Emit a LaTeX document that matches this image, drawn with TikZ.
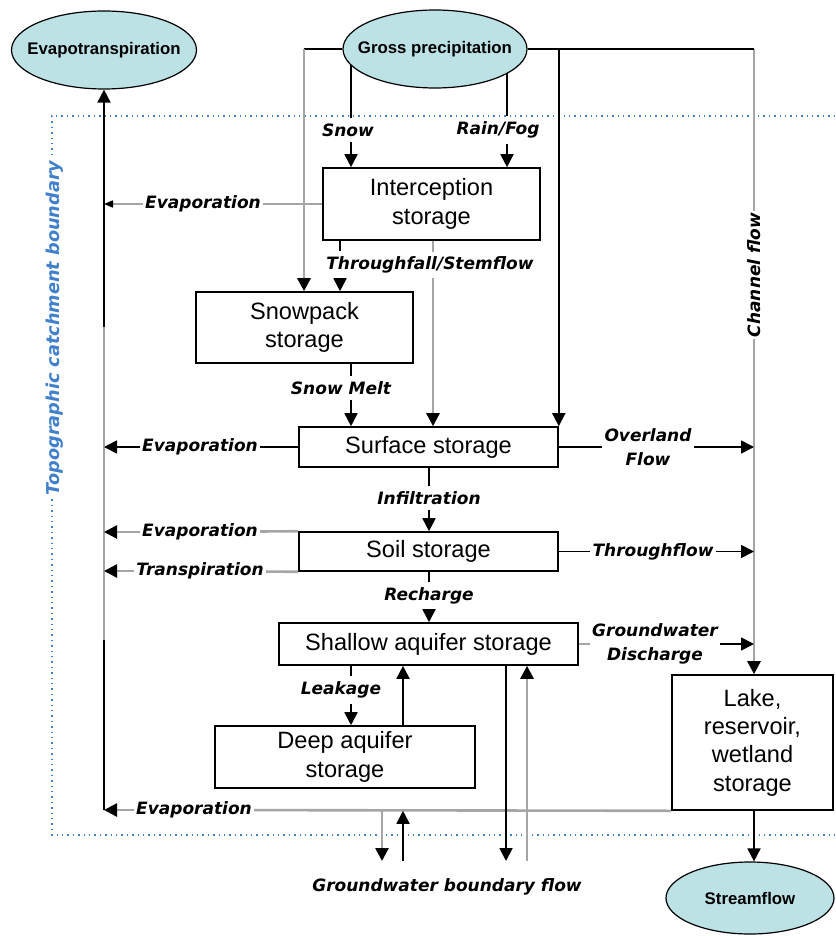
\documentclass[tikz,border=0pt]{standalone}
\usepackage{fontspec}
\setmainfont{Liberation Sans}
\newfontfamily\rotfont{DejaVu Sans Bold Oblique}
\usetikzlibrary{arrows.meta,shapes.geometric,backgrounds}

\definecolor{celeste}{RGB}{189,226,230}
\definecolor{limite}{RGB}{64,128,204}
\definecolor{grisclaro}{RGB}{165,165,165}

\begin{document}
\begin{tikzpicture}[x=0.5pt, y=-0.5pt,
    caja/.style={draw, line width=0.8pt, fill=white, inner sep=0pt, align=center,
        font=\fontsize{11.8}{14.2}\selectfont},
    elipse/.style={ellipse, draw, line width=0.6pt, fill=celeste, inner xsep=-8pt,
        inner ysep=0pt, font=\bfseries\fontsize{8.4}{10}\selectfont},
    rotulo/.style={fill=white, inner xsep=1pt, inner ysep=2.5pt, align=center,
        font=\rotfont\fontsize{8.5}{11.8}\selectfont},
    linea/.style={line width=0.9pt, black},
    lineagris/.style={line width=1.3pt, grisclaro},
    punta/.style={-{Triangle[length=6.5pt, width=6.5pt, color=black]}},
    puntita/.style={-{Triangle[length=4.5pt, width=3.5pt, color=black]}}]

    \useasboundingbox (0,0) rectangle (835,936);

    % limite de la cuenca
    \draw[limite, dotted, line width=0.7pt] (835,116) -- (52,116) -- (52,835) -- (835,835);
    \node[rotulo, rotate=90, text=limite, font=\rotfont\fontsize{8.85}{10}\selectfont]
        (cuenca) at (55,328) {Topographic catchment boundary};

    % ejes verticales
    \coordinate (izq) at (104,0);
    \coordinate (canal) at (754,0);
    \coordinate (caida) at (304,0);
    \coordinate (goteo) at (340,0);
    \coordinate (ejenieve) at (351,0);
    \coordinate (ejegris) at (433,0);
    \coordinate (ejelluvia) at (507,0);
    \coordinate (ejesube) at (403,0);
    \coordinate (ejebaja) at (506,0);
    \coordinate (ejeentra) at (527,0);
    \coordinate (ejesale) at (382,0);
    \coordinate (abajo) at (0,861);
    \coordinate (gris1) at (104,327);
    \coordinate (gris2) at (104,640);

    % elipses
    \node[elipse, minimum width=92.5pt, minimum height=39pt] (evt) at (104,50) {Evapotranspiration};
    \node[elipse, minimum width=92pt, minimum height=39pt] (lluvia) at (435,49) {Gross precipitation};
    \node[elipse, minimum width=84pt, minimum height=36pt] (caudal) at (750,898) {Streamflow};

    % almacenamientos
    \node[caja, minimum width=108.5pt, minimum height=36pt] (intercep) at (431.5,204) {Interception\\storage};
    \node[caja, minimum width=108.5pt, minimum height=35.5pt] (nieve) at (304.5,327.5) {Snowpack\\storage};
    \node[caja, minimum width=129.5pt, minimum height=20pt] (superf) at (428.5,447) {Surface storage};
    \node[caja, minimum width=129.5pt, minimum height=19.5pt] (suelo) at (428.5,551.5) {Soil storage};
    \node[caja, minimum width=149.5pt, minimum height=21pt] (somero) at (428.5,644) {Shallow aquifer storage};
    \node[caja, minimum width=130pt, minimum height=31pt] (profundo) at (345,757) {Deep aquifer\\storage};
    \node[caja, minimum width=80.5pt, minimum height=67.5pt] (lago) at (752.5,742.5) {Lake,\\reservoir,\\wetland\\storage};

    % evapotranspiracion
    \node[rotulo] (evap4) at (194,810) {Evaporation};
    \draw[linea, punta] (izq |- evap4) -- (evt.south);
    \draw[lineagris] (gris1) -- (gris2);

    % precipitacion
    \draw[linea] (lluvia.west) -- (caida |- lluvia);
    \draw[lineagris, punta] (caida |- lluvia) -- (caida |- nieve.north);
    \draw[lineagris, punta] (canal |- lluvia) -- (canal |- lago.north);
    \draw[linea] (lluvia.east) -- (canal |- lluvia);
    \draw[linea, punta] (superf.north east |- lluvia) -- (superf.north east);
    \node[rotulo, rotate=90] (chflow) at (754,275) {Channel flow};

    \node[rotulo] (snow) at (348,130) {Snow};
    \node[rotulo] (rain) at (498,130) {Rain/Fog};
    \begin{pgfonlayer}{background}
        \draw[linea] (ejenieve |- snow.north) -- (ejenieve |- lluvia);
        \draw[linea] (ejelluvia |- rain.north) -- (ejelluvia |- lluvia);
    \end{pgfonlayer}
    \draw[linea, punta] (ejenieve |- snow.south) -- (ejenieve |- intercep.north);
    \draw[linea, punta] (ejelluvia |- rain.south) -- (ejelluvia |- intercep.north);

    % intercepcion
    \node[rotulo] (evap1) at (203,204) {Evaporation};
    \draw[lineagris, line width=0.8pt] (intercep.west) -- (evap1);
    \draw[lineagris, line width=0.8pt, puntita] (evap1) -- (izq |- evap1);
    \draw[lineagris, punta] (ejegris |- intercep.south) -- (ejegris |- superf.north);
    \node[rotulo] (throughfall) at (430,265) {Throughfall/Stemflow};
    \draw[linea] (goteo |- intercep.south) -- (goteo |- throughfall.north);
    \draw[linea, punta] (goteo |- throughfall.south) -- (goteo |- nieve.north);

    % nieve
    \node[rotulo] (melt) at (341,388) {Snow Melt};
    \draw[linea] (ejenieve |- nieve.south) -- (ejenieve |- melt.north);
    \draw[linea, punta] (ejenieve |- melt.south) -- (ejenieve |- superf.north);

    % superficie
    \node[rotulo] (evap2) at (200,447) {Evaporation};
    \draw[linea] (superf.west) -- (evap2);
    \draw[linea, punta] (evap2) -- (izq |- evap2);
    \node[rotulo] (overland) at (648,447) {Overland\\Flow};
    \draw[linea] (superf.east) -- (overland);
    \draw[linea, punta] (overland) -- (canal |- overland);
    \node[rotulo] (infil) at (429,498) {Infiltration};
    \draw[linea] (infil |- superf.south) -- (infil);
    \draw[linea, punta] (infil) -- (infil |- suelo.north);

    % suelo
    \node[rotulo] (evap3) at (200,532) {Evaporation};
    \draw[lineagris] (suelo.north west) -- (evap3);
    \draw[lineagris, punta] (evap3) -- (izq |- evap3);
    \node[rotulo] (transp) at (200,571) {Transpiration};
    \draw[lineagris] (suelo.south west) -- (transp);
    \draw[lineagris, punta] (transp) -- (izq |- transp);
    \node[rotulo] (throughflow) at (653,551.5) {Throughflow};
    \draw[linea] (suelo.east) -- (throughflow);
    \draw[linea, punta] (throughflow) -- (canal |- throughflow);
    \node[rotulo] (recharge) at (429,596) {Recharge};
    \draw[linea] (recharge |- suelo.south) -- (recharge);
    \draw[linea, punta] (recharge) -- (recharge |- somero.north);

    % acuiferos
    \node[rotulo] (descarga) at (655,644) {Groundwater\\Discharge};
    \draw[lineagris, line width=0.8pt] (somero.east) -- (descarga);
    \draw[linea, punta] (descarga) -- (canal |- descarga);
    \node[rotulo] (leakage) at (341,690) {Leakage};
    \draw[linea] (ejenieve |- somero.south) -- (ejenieve |- leakage.north);
    \draw[linea, punta] (ejenieve |- leakage.south) -- (ejenieve |- profundo.north);
    \draw[linea, punta] (ejesube |- profundo.north) -- (ejesube |- somero.south);

    % lago
    \draw[lineagris] (lago.south west) -- (evap4);
    \draw[lineagris, punta] (evap4) -- (izq |- evap4);
    \draw[linea, punta] (canal |- lago.south) -- (canal |- caudal.north);

    % flujo de frontera
    \draw[linea, punta] (ejebaja |- somero.south) -- (ejebaja |- abajo);
    \draw[lineagris, punta] (ejeentra |- abajo) -- (ejeentra |- somero.south);
    \draw[lineagris, punta] (ejesale |- lago.south) -- (ejesale |- abajo);
    \draw[linea, punta] (ejesube |- abajo) -- (ejesube |- lago.south);
    \node[rotulo] (frontera) at (447,887) {Groundwater boundary flow};

\end{tikzpicture}
\end{document}
